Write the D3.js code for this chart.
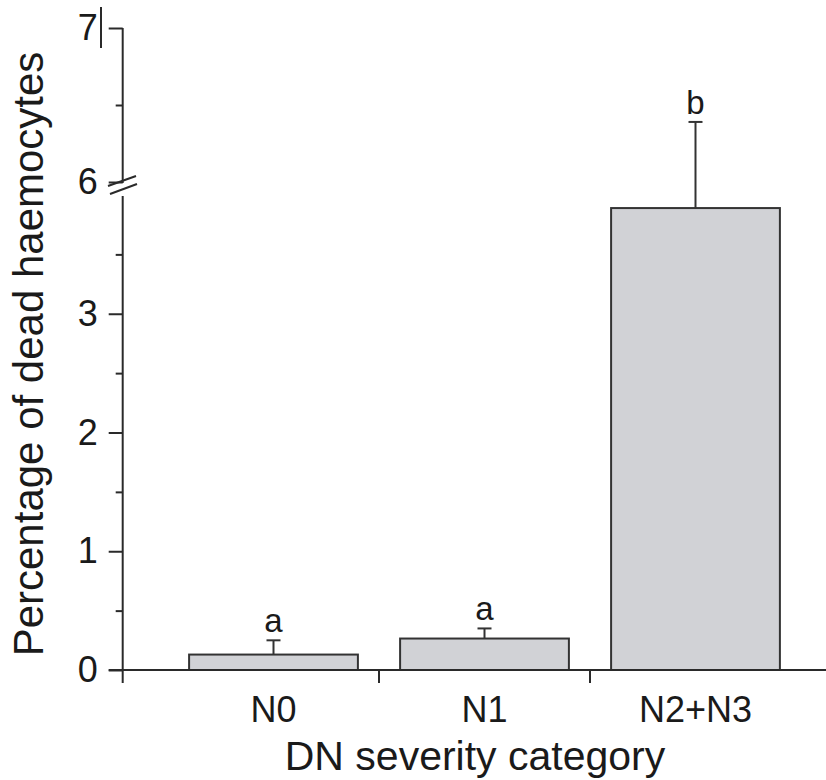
<!DOCTYPE html>
<meta charset="utf-8">
<title>Dead haemocytes by DN severity</title>
<script src="https://d3js.org/d3.v7.min.js"></script>
<style>
  body { margin: 0; background: #fff; }
  text { font-family: "Liberation Sans", Arial, sans-serif; fill: #1a1a1a; }
  .tick text { font-size: 36px; }
  .axis line, .axis path { stroke: #2a2a2a; stroke-width: 2px; }
  .title { font-size: 41px; }
  .letter { font-size: 33px; text-anchor: middle; }
</style>
<div id="chart"></div>
<script>
// data
var categories = ["N0", "N1", "N2+N3"];
var means = [0.13, 0.265, 3.89];
var errors = [0.12, 0.085, 2.5];
var letters = ["a", "a", "b"];
var lowerTicks = [0, 1, 2, 3];
var lowerMinor = [0.5, 1.5, 2.5, 3.5];
var upperTicks = [6, 7];
var upperMinor = [6.5];

var width = 826, height = 780;

var svg = d3.select("#chart").append("svg")
    .attr("width", width)
    .attr("height", height);

var axisX = 122.7;

// broken y scale: 0-4 below the break, 6-7 above it
var yLow = d3.scaleLinear().domain([0, 4]).range([670, 195]);
var yHigh = d3.scaleLinear().domain([6, 7]).range([182, 28]);
var y = d3.scaleLinear().domain([0, 4, 6, 7]).range([670, 195, 182, 28]);

var x = d3.scaleBand()
    .domain(categories)
    .range([168, 801])
    .paddingInner(0.2)
    .paddingOuter(0.1);

// bars
svg.selectAll("rect.bar")
  .data(categories)
  .enter().append("rect")
    .attr("class", "bar")
    .attr("x", function(d) { return x(d); })
    .attr("y", function(d, i) { return y(means[i]); })
    .attr("width", x.bandwidth())
    .attr("height", function(d, i) { return y(0) - y(means[i]); })
    .attr("fill", "#d1d2d6")
    .attr("stroke", "#333")
    .attr("stroke-width", 2);

// error bars (upper only)
var eb = svg.selectAll("g.err")
  .data(categories)
  .enter().append("g")
    .attr("class", "err");

eb.append("line")
    .attr("x1", function(d) { return x(d) + x.bandwidth() / 2; })
    .attr("x2", function(d) { return x(d) + x.bandwidth() / 2; })
    .attr("y1", function(d, i) { return y(means[i]); })
    .attr("y2", function(d, i) { return y(means[i] + errors[i]); })
    .attr("stroke", "#333")
    .attr("stroke-width", 2);

eb.append("line")
    .attr("x1", function(d) { return x(d) + x.bandwidth() / 2 - 7; })
    .attr("x2", function(d) { return x(d) + x.bandwidth() / 2 + 7; })
    .attr("y1", function(d, i) { return y(means[i] + errors[i]); })
    .attr("y2", function(d, i) { return y(means[i] + errors[i]); })
    .attr("stroke", "#333")
    .attr("stroke-width", 2);

eb.append("text")
    .attr("class", "letter")
    .attr("x", function(d) { return x(d) + x.bandwidth() / 2; })
    .attr("y", function(d, i) { return y(means[i] + errors[i]) - 8; })
    .text(function(d, i) { return letters[i]; });

// y axis - lower part
var gLow = svg.append("g").attr("class", "axis")
    .attr("transform", "translate(" + axisX + ",0)")
    .call(d3.axisLeft(yLow).tickValues(lowerTicks).tickSize(14).tickPadding(11).tickFormat(d3.format("d")));
gLow.select(".domain").remove();

var gLowMinor = svg.append("g").attr("class", "axis")
    .attr("transform", "translate(" + axisX + ",0)")
    .call(d3.axisLeft(yLow).tickValues(lowerMinor).tickSize(7).tickFormat(""));
gLowMinor.select(".domain").remove();

// y axis - upper part
var gHigh = svg.append("g").attr("class", "axis")
    .attr("transform", "translate(" + axisX + ",0)")
    .call(d3.axisLeft(yHigh).tickValues(upperTicks).tickSize(14).tickPadding(11).tickFormat(d3.format("d")));
gHigh.select(".domain").remove();

var gHighMinor = svg.append("g").attr("class", "axis")
    .attr("transform", "translate(" + axisX + ",0)")
    .call(d3.axisLeft(yHigh).tickValues(upperMinor).tickSize(7).tickFormat(""));
gHighMinor.select(".domain").remove();

// axis spine segments
svg.append("line")
    .attr("x1", axisX).attr("x2", axisX)
    .attr("y1", yLow(0) + 13).attr("y2", 196)
    .attr("stroke", "#2a2a2a").attr("stroke-width", 2);
svg.append("line")
    .attr("x1", axisX).attr("x2", axisX)
    .attr("y1", yHigh(6) + 1).attr("y2", yHigh(7))
    .attr("stroke", "#2a2a2a").attr("stroke-width", 2);

// break marks
svg.append("line")
    .attr("x1", 108).attr("y1", 186).attr("x2", 136).attr("y2", 176)
    .attr("stroke", "#2a2a2a").attr("stroke-width", 2);
svg.append("line")
    .attr("x1", 110).attr("y1", 194).attr("x2", 137).attr("y2", 184)
    .attr("stroke", "#2a2a2a").attr("stroke-width", 2);

// stray bar next to the 7
svg.append("line")
    .attr("x1", 101).attr("x2", 101)
    .attr("y1", 7).attr("y2", 48)
    .attr("stroke", "#2a2a2a").attr("stroke-width", 2);

// x axis
svg.append("line")
    .attr("x1", axisX - 14).attr("x2", width)
    .attr("y1", y(0)).attr("y2", y(0))
    .attr("stroke", "#2a2a2a").attr("stroke-width", 2);

// ticks between the categories
var step = x.step();
var bounds = categories.slice(1).map(function(d) { return x(d) - step * x.paddingInner() / 2; });
svg.selectAll("line.xtick")
  .data(bounds)
  .enter().append("line")
    .attr("class", "xtick")
    .attr("x1", function(d) { return d; })
    .attr("x2", function(d) { return d; })
    .attr("y1", y(0))
    .attr("y2", y(0) + 13)
    .attr("stroke", "#2a2a2a")
    .attr("stroke-width", 2);

svg.selectAll("text.xlab")
  .data(categories)
  .enter().append("text")
    .attr("class", "xlab")
    .attr("x", function(d) { return x(d) + x.bandwidth() / 2; })
    .attr("y", 722)
    .attr("text-anchor", "middle")
    .style("font-size", "36px")
    .text(function(d) { return d; });

// titles
svg.append("text")
    .attr("class", "title")
    .attr("x", 475)
    .attr("y", 770)
    .attr("text-anchor", "middle")
    .text("DN severity category");

svg.append("text")
    .attr("class", "title")
    .attr("transform", "translate(43,354) rotate(-90)")
    .attr("text-anchor", "middle")
    .style("font-size", "42px")
    .text("Percentage of dead haemocytes");
</script>
